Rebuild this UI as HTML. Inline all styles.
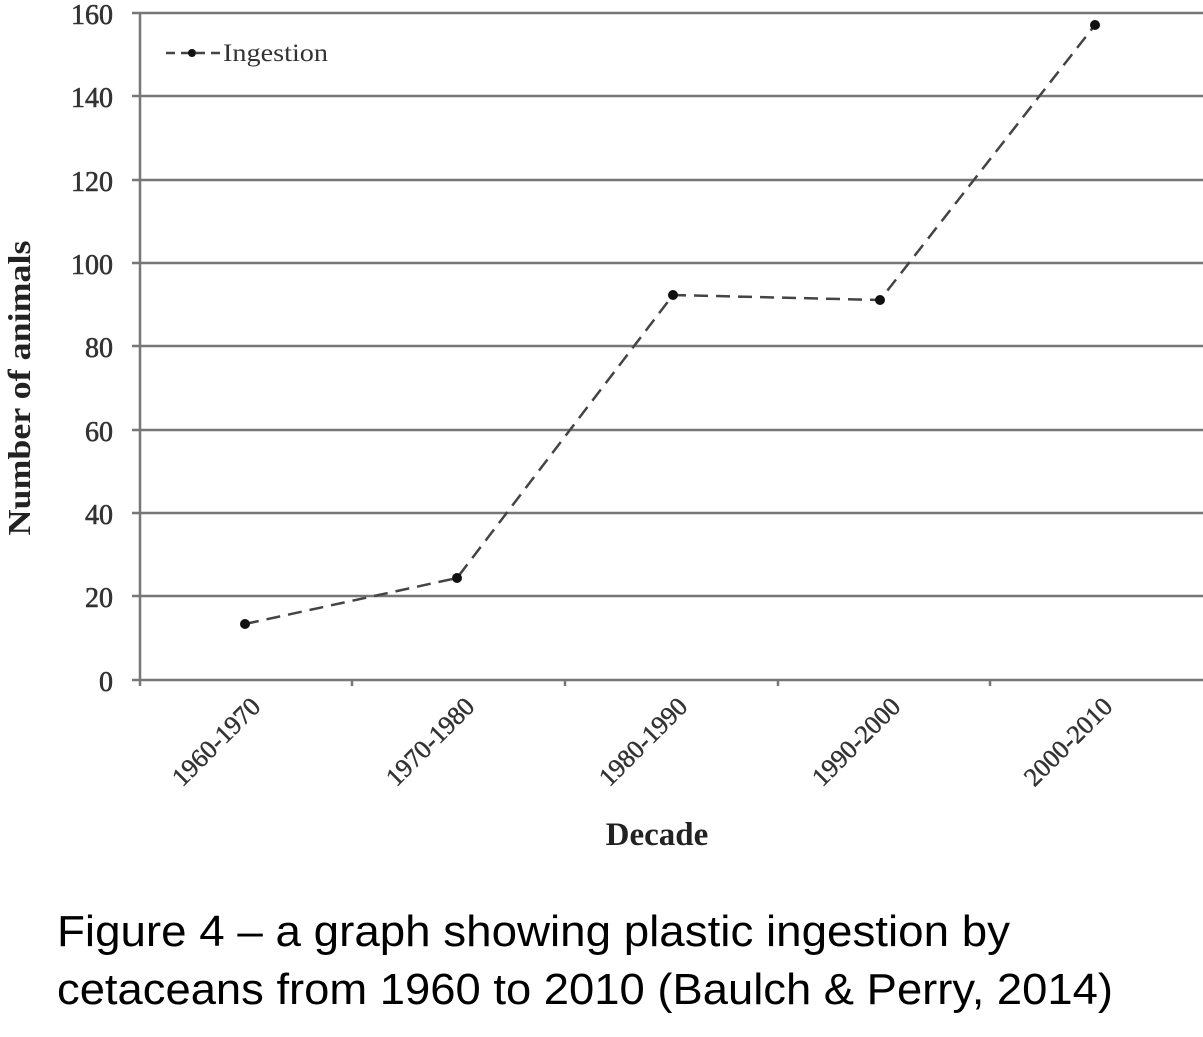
<!DOCTYPE html>
<html><head><meta charset="utf-8"><style>
html,body{margin:0;padding:0;background:#fff;}
svg{display:block;}
</style></head><body>
<svg width="1203" height="1037" viewBox="0 0 1203 1037" xmlns="http://www.w3.org/2000/svg">
<g stroke="#777" stroke-width="2.5">
<line x1="132" y1="13" x2="1203" y2="13"/>
<line x1="132" y1="96" x2="1203" y2="96"/>
<line x1="132" y1="180" x2="1203" y2="180"/>
<line x1="132" y1="263" x2="1203" y2="263"/>
<line x1="132" y1="346" x2="1203" y2="346"/>
<line x1="132" y1="430" x2="1203" y2="430"/>
<line x1="132" y1="513" x2="1203" y2="513"/>
<line x1="132" y1="596" x2="1203" y2="596"/>
<line x1="132" y1="680" x2="1203" y2="680"/>
<line x1="140" y1="13" x2="140" y2="686"/>
<line x1="352" y1="680" x2="352" y2="686"/>
<line x1="565" y1="680" x2="565" y2="686"/>
<line x1="778" y1="680" x2="778" y2="686"/>
<line x1="990" y1="680" x2="990" y2="686"/>
</g>
<g font-family="Liberation Serif, serif" font-size="28" fill="#333" stroke="#333" stroke-width="0.6" text-anchor="end">
<text x="113" y="24">160</text>
<text x="113" y="107">140</text>
<text x="113" y="191">120</text>
<text x="113" y="274">100</text>
<text x="113" y="357">80</text>
<text x="113" y="441">60</text>
<text x="113" y="524">40</text>
<text x="113" y="607">20</text>
<text x="113" y="691">0</text>
</g>
<text transform="translate(30,388) rotate(-90)" font-family="Liberation Serif, serif" font-size="32" font-weight="bold" fill="#222" text-anchor="middle" textLength="295" lengthAdjust="spacingAndGlyphs">Number of animals</text>
<g font-family="Liberation Serif, serif" font-size="26" fill="#333" stroke="#333" stroke-width="0.5" text-anchor="end">
<text transform="translate(262,708) rotate(-45)">1960-1970</text>
<text transform="translate(476,708) rotate(-45)">1970-1980</text>
<text transform="translate(689,708) rotate(-45)">1980-1990</text>
<text transform="translate(902,708) rotate(-45)">1990-2000</text>
<text transform="translate(1114,708) rotate(-45)">2000-2010</text>
</g>
<text x="657" y="845" font-family="Liberation Serif, serif" font-size="33" font-weight="bold" fill="#222" text-anchor="middle">Decade</text>
<polyline points="245,624 457,578 673,295 880,300 1095,25" fill="none" stroke="#444" stroke-width="2.5" stroke-dasharray="14,8"/>
<g fill="#111">
<circle cx="245" cy="624" r="5"/><circle cx="457" cy="578" r="5"/><circle cx="673" cy="295" r="5"/><circle cx="880" cy="300" r="5"/><circle cx="1095" cy="25" r="5"/>
</g>
<line x1="166" y1="53" x2="220" y2="53" stroke="#444" stroke-width="2.5" stroke-dasharray="9,6"/>
<circle cx="192" cy="53" r="4" fill="#111"/>
<text x="223" y="61" font-family="Liberation Serif, serif" font-size="25" fill="#333" textLength="105" lengthAdjust="spacingAndGlyphs">Ingestion</text>
<g font-family="Liberation Sans, sans-serif" font-size="44" fill="#000">
<text x="57" y="946" textLength="953" lengthAdjust="spacingAndGlyphs">Figure 4 – a graph showing plastic ingestion by</text>
<text x="57" y="1004" textLength="1056" lengthAdjust="spacingAndGlyphs">cetaceans from 1960 to 2010 (Baulch &amp; Perry, 2014)</text>
</g>
</svg>
</body></html>
